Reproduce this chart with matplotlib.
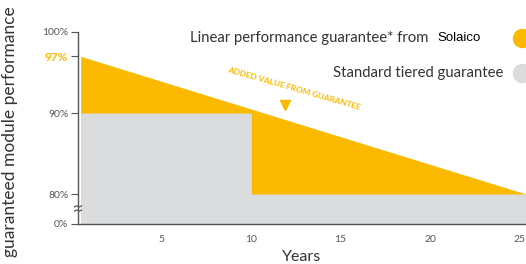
import numpy as np
import matplotlib
matplotlib.use("Agg")
import matplotlib.pyplot as plt
import matplotlib.transforms as mtransforms

# data
years_linear = [0.5, 25.35]
perf_linear = [97, 80]
years_tiered = [0.5, 10, 10, 25.35]
perf_tiered = [90, 90, 80, 80]
ytick_vals = [0, 80, 90, 97, 100]
ytick_labels = ['0%', '80%', '90%', '97%', '100%']
xtick_vals = [5, 10, 15, 20, 25]

YELLOW = '#FBBA00'
GREY = '#DADCDD'
TXT = '#555555'
DARK = '#333333'

plt.rcParams['font.family'] = ['Lato', 'DejaVu Sans']

# broken y axis: 0-80% squeezed into a small band
Z0 = 76.3
def fwd(v):
    v = np.asarray(v, dtype=float)
    return np.where(v >= 80, v, Z0 + v * (80 - Z0) / 80)

def inv(v):
    v = np.asarray(v, dtype=float)
    return np.where(v >= 80, v, (v - Z0) * 80 / (80 - Z0))

fig = plt.figure(figsize=(5.26, 2.64), dpi=100)
ax = fig.add_axes([78 / 526, 40 / 264, 448 / 526, 192 / 264])
ax.set_yscale('function', functions=(fwd, inv))

lin = np.interp(years_tiered, years_linear, perf_linear)
ax.fill_between(years_tiered, 0, perf_tiered, color=GREY, lw=0)
ax.fill_between(years_tiered, perf_tiered, lin, color=YELLOW, lw=0)

ax.set_xlim(0.35, 25.35)
ax.set_ylim(0, 100)

for s in ['top', 'right']:
    ax.spines[s].set_visible(False)
for s in ['left', 'bottom']:
    ax.spines[s].set_color('#555555')
    ax.spines[s].set_linewidth(1.0)

ax.set_yticks(ytick_vals)
ax.set_yticklabels(ytick_labels)
ax.tick_params(axis='y', length=5, width=0.8, color='#555555', labelsize=7.5, labelcolor=TXT, pad=2)
ax.get_yticklabels()[3].set_color(YELLOW)
ax.get_yticklabels()[3].set_fontweight('bold')
ax.get_yticklabels()[3].set_fontsize(8.5)

ax.set_xticks(xtick_vals)
ax.tick_params(axis='x', length=0, labelsize=7.5, labelcolor=TXT, pad=8)
ax.set_xlabel('Years', fontsize=11.5, color=DARK, labelpad=4)

fig.text(10 / 526, 0.5, 'guaranteed module performance', rotation=90,
         ha='center', va='center', fontsize=12.5, color=DARK)

# axis break mark (two small zigzags across the spine)
brk = mtransforms.blended_transform_factory(ax.transAxes, ax.transData)
zx = [-0.008, -0.003, 0.003, 0.008]
for yc in [47, 36]:
    ax.plot(zx, [yc - 1.5, yc + 1.5, yc - 1.5, yc + 1.5], color='#444444', lw=0.8,
            transform=brk, clip_on=False)

# added value annotation
ax.text(12.4, 93.0, 'ADDED VALUE FROM GUARANTEE', rotation=-16, fontsize=6,
        color=YELLOW, ha='center', va='center', fontweight='bold')
ax.plot([11.9], [91.0], marker='v', ms=7, color=YELLOW, clip_on=False)

# legend
fig.text(428 / 526, 1 - 38 / 264, 'Linear performance guarantee* from', fontsize=10.7,
         color=DARK, ha='right', va='center')
fig.text(437 / 526, 1 - 38 / 264, 'Solaico', fontsize=9.5, color='black',
         ha='left', va='center', family='Liberation Sans')
fig.text(503 / 526, 1 - 73 / 264, 'Standard tiered guarantee', fontsize=10.7,
         color=DARK, ha='right', va='center')
ax.plot([522 / 526], [1 - 38 / 264], 'o', ms=13, color=YELLOW,
        transform=fig.transFigure, clip_on=False)
ax.plot([522 / 526], [1 - 73 / 264], 'o', ms=13, color=GREY,
        transform=fig.transFigure, clip_on=False)

fig.savefig('out.png', dpi=100, facecolor='white')
